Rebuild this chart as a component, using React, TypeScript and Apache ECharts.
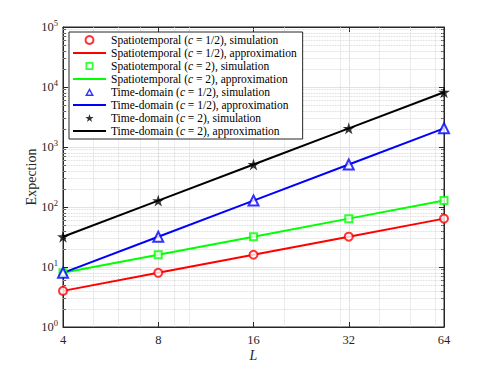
import React, { useEffect, useRef } from "react";
import * as echarts from "echarts";

const L = [4, 8, 16, 32, 64];
const xTicks = [4, 8, 16, 32, 64];
const xMinor = [5, 6, 7, 9, 10, 20, 30, 40, 50, 60];
const yDecades = [1, 10, 100, 1000, 10000];
const yMinorMult = [2, 3, 4, 5, 6, 7, 8, 9];

const stHalf = [4, 8, 16, 32, 64];
const stTwo = [8, 16, 32, 64, 128];
const tdHalf = [8, 32, 128, 512, 2048];
const tdTwo = [32, 128, 512, 2048, 8192];

const names = [
  "Spatiotemporal (c = 1/2), simulation",
  "Spatiotemporal (c = 1/2), approximation",
  "Spatiotemporal (c = 2), simulation",
  "Spatiotemporal (c = 2), approximation",
  "Time-domain (c = 1/2), simulation",
  "Time-domain (c = 1/2), approximation",
  "Time-domain (c = 2), simulation",
  "Time-domain (c = 2), approximation",
];

const STAR =
  "path://M50,0 L61.2,34.5 L97.6,34.5 L68.2,55.9 L79.4,90.5 L50,69.1 L20.6,90.5 L31.8,55.9 L2.4,34.5 L38.8,34.5 Z";
const LINEICON = "path://M0,0 H35 V2.2 H0 Z";
const SQUARE_RING = "path://M0,0 H10 V10 H0 Z M2.2,2.2 V7.8 H7.8 V2.2 Z";
const TRI_RING = "path://M5,0 L10,9 L0,9 Z M5,3.3 L2.72,7.4 L7.28,7.4 Z";

const FONT = "Liberation Serif";
const AX = "#262626";

export default function App() {
  const ref = useRef<HTMLDivElement>(null);
  useEffect(() => {
    if (!ref.current) return;
    const chart = echarts.init(ref.current, null, { renderer: "svg" });
    const yMinor: number[] = [];
    yDecades.forEach((d) => yMinorMult.forEach((m) => yMinor.push(d * m)));
    const pairs = (ys: number[]) => L.map((x, i) => [x, ys[i]]);
    const colors = ["#ff0000", "#00ff00", "#0000ff", "#000000"];
    const sets = [stHalf, stTwo, tdHalf, tdTwo];
    const symbols = ["emptyCircle", "emptyRect", "emptyTriangle", STAR];
    const legendIcons = ["emptyCircle", SQUARE_RING, TRI_RING, STAR];
    const sizes = [8, 7, 10, 12];

    const lineSeries = sets.map((s, i) => ({
      type: "line",
      name: names[i * 2 + 1],
      data: pairs(s),
      symbol: "none",
      showSymbol: false,
      lineStyle: { color: colors[i], width: 2 },
      itemStyle: { color: colors[i] },
      z: 3,
      silent: true,
      ...(i === 0
        ? {
            markLine: {
              silent: true,
              z: 1,
              symbol: ["none", "none"],
              label: { show: false },
              emphasis: { disabled: true },
              lineStyle: { color: "#cfcfcf", type: "dotted", width: 0.8 },
              data: [
                ...xMinor.map((v) => ({ xAxis: v })),
                ...yMinor.map((v) => ({ yAxis: v })),
              ],
            },
          }
        : {}),
    }));
    const scatterSeries = sets.map((s, i) => ({
      type: "scatter",
      name: names[i * 2],
      data: pairs(s),
      symbol: symbols[i],
      symbolSize: sizes[i],
      clip: false,
      itemStyle: { color: colors[i], borderColor: colors[i], borderWidth: i === 3 ? 0 : 1.6 },
      z: 4,
      silent: true,
    }));

    const legendData = names.map((n, k) => {
      const i = Math.floor(k / 2);
      const isSim = k % 2 === 0;
      return {
        name: n,
        icon: isSim ? legendIcons[i] : LINEICON,
        itemStyle: { color: colors[i], borderWidth: 0 },
      };
    });

    const axisCommon = {
      axisLine: { show: true, lineStyle: { color: AX, width: 1 } },
      axisTick: { show: true, inside: true, length: 5, lineStyle: { color: AX } },
    };
    const yMinorTick = { show: true, splitNumber: 9, length: 3, lineStyle: { color: AX } };

    chart.setOption({
      animation: false,
      backgroundColor: "#ffffff",
      grid: {
        left: 63,
        right: 47,
        top: 27,
        bottom: 41,
        show: true,
        borderColor: AX,
        borderWidth: 1,
        backgroundColor: "#ffffff",
      },
      legend: {
        show: true,
        orient: "vertical",
        left: 69,
        top: 32,
        padding: [2, 6, 2, 4],
        itemWidth: 33,
        itemHeight: 8,
        itemGap: 1,
        selectedMode: false,
        symbolKeepAspect: true,
        backgroundColor: "#ffffff",
        borderColor: AX,
        borderWidth: 1,
        borderRadius: 0,
        data: legendData,
        formatter: (n: string) => n.replace("(c", "({i|c}"),
        textStyle: {
          fontFamily: FONT,
          fontSize: 11.5,
          lineHeight: 12,
          color: "#000",
          rich: {
            i: { fontFamily: FONT, fontSize: 11.5, fontStyle: "italic", color: "#000" },
          },
        },
      },
      xAxis: [
        {
          type: "log",
          logBase: 2,
          min: 4,
          max: 64,
          splitNumber: 4,
          position: "bottom",
          ...axisCommon,
          axisLabel: {
            color: AX,
            fontFamily: FONT,
            fontSize: 12.5,
            margin: 6,
            formatter: (v: number) => String(xTicks.find((t) => Math.abs(t - v) < 1e-6) ?? Math.round(v)),
          },
          splitLine: { show: true, lineStyle: { color: "#e2e2e2", width: 1 } },
          name: "L",
          nameLocation: "middle",
          nameGap: 21,
          nameMoveOverlap: false,
          nameTextStyle: { fontFamily: FONT, fontSize: 14, fontStyle: "italic", color: AX },
        },
        {
          type: "log",
          logBase: 2,
          min: 4,
          max: 64,
          splitNumber: 4,
          position: "top",
          ...axisCommon,
          axisLabel: { show: false },
          splitLine: { show: false },
        },
      ],
      yAxis: [
        {
          type: "log",
          logBase: 10,
          min: 1,
          max: 100000,
          splitNumber: 5,
          position: "left",
          ...axisCommon,
          minorTick: yMinorTick,
          axisLabel: {
            color: AX,
            fontFamily: FONT,
            fontSize: 12.5,
            margin: 5,
            formatter: (v: number) => `10{s|${Math.round(Math.log10(v))}}`,
            rich: {
              s: { fontFamily: FONT, fontSize: 8.5, color: AX, verticalAlign: "top", padding: [0, 0, 8, 0] },
            },
          },
          splitLine: { show: true, lineStyle: { color: "#e2e2e2", width: 1 } },
          name: "Expection",
          nameLocation: "middle",
          nameGap: 25,
          nameMoveOverlap: false,
          nameTextStyle: { fontFamily: FONT, fontSize: 14, color: AX },
        },
        {
          type: "log",
          logBase: 10,
          min: 1,
          max: 100000,
          splitNumber: 5,
          position: "right",
          ...axisCommon,
          minorTick: yMinorTick,
          axisLabel: { show: false },
          splitLine: { show: false },
        },
      ],
      series: [...lineSeries, ...scatterSeries],
    });
    return () => chart.dispose();
  }, []);
  return (
    <div
      ref={ref}
      style={{ position: "fixed", left: 0, top: 0, width: 491, height: 368, background: "#fff" }}
    />
  );
}
